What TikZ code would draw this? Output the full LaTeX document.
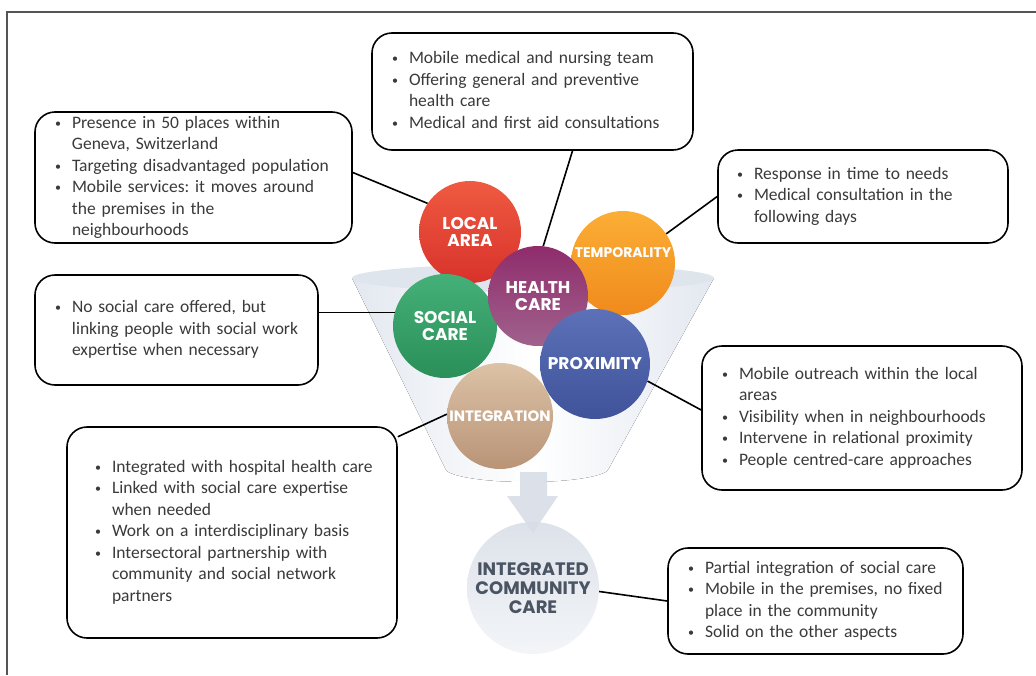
\documentclass[tikz,border=0pt]{standalone}
\usepackage{fontspec}
\setmainfont{Carlito}
\newfontfamily\ballfont{Poppins}
\frenchspacing

\definecolor{framecol}{HTML}{555555}
\definecolor{boxtext}{HTML}{3A3A3A}
\definecolor{funnel}{HTML}{E3E8F0}
\definecolor{funnelrim}{HTML}{DFE5ED}
\definecolor{arrowcol}{HTML}{D8DEE7}
\definecolor{redtop}{HTML}{EF5A41}
\definecolor{redbot}{HTML}{D8322B}
\definecolor{orangetop}{HTML}{FBAE35}
\definecolor{orangebot}{HTML}{F08A1C}
\definecolor{purpletop}{HTML}{8F2C6C}
\definecolor{purplebot}{HTML}{A0628C}
\definecolor{greentop}{HTML}{44B078}
\definecolor{greenbot}{HTML}{2A8F58}
\definecolor{bluetop}{HTML}{5C71B8}
\definecolor{bluebot}{HTML}{3F529A}
\definecolor{tantop}{HTML}{DCC2A6}
\definecolor{tanbot}{HTML}{B99477}
\definecolor{icctop}{HTML}{DDE2EA}
\definecolor{iccbot}{HTML}{F3F5F8}
\definecolor{icctext}{HTML}{4A5462}

\newcommand{\bul}{\makebox[17pt][l]{\raisebox{0.1ex}{\fontsize{12}{12}\selectfont\textbullet}}}
\newcommand{\cont}{\hspace*{17pt}}
\newcommand{\points}[1]{\noindent\begin{tabular}{@{}l@{}}#1\end{tabular}}

\tikzset{
	infobox/.style={draw=black, line width=1.6pt, rounded corners=20pt, fill=white,
		font=\fontsize{17.5}{21.5}\selectfont, text=boxtext, inner xsep=20pt, inner ysep=0pt},
	ball/.style={circle, inner sep=0pt, text=white, align=center,
		font=\ballfont\bfseries\fontsize{17}{17.5}\selectfont},
	link/.style={line width=1.6pt, black},
}

\begin{document}
\begin{tikzpicture}[x=1pt, y=-1pt]
	\useasboundingbox (0,0) rectangle (1036,675);
	\draw[framecol, line width=1.4pt] (1036,12) -- (7,12) -- (7,675);	% Frame

	% Funnel
	\coordinate (FL) at (352,278);
	\coordinate (FR) at (714,278);
	\coordinate (BL) at (445,468);
	\fill[left color=funnel, right color=funnel, middle color=white]
		(FL) -- (BL) arc[start angle=180, end angle=0, x radius=82, y radius=14] -- (FR) -- cycle;	% Cone
	\fill[funnelrim] (533,278) ellipse[x radius=181, y radius=14];	% Rim

	% Result
	\node[ball, minimum size=132pt, top color=icctop, bottom color=iccbot, text=icctext,
		font=\ballfont\bfseries\fontsize{18}{19}\selectfont] (icc) at (533,588) {INTEGRATED\\COMMUNITY\\CARE};
	\fill[arrowcol, opacity=0.9] (520,472) -- (547,472) -- (547,496) -- (558,496)
		-- (533,533) -- (507,496) -- (520,496) -- cycle;	% Arrow into result

	% Balls
	\node[ball, minimum size=102pt, top color=redtop, bottom color=redbot] (local) at (470,232) {LOCAL\\AREA};
	\node[ball, minimum size=104pt, top color=orangetop, bottom color=orangebot] (temp) at (623,263) {};
	\node[ball, font=\ballfont\bfseries\fontsize{14}{14}\selectfont] at ([yshift=10pt]temp.center) {TEMPORALITY};
	\node[ball, minimum size=104pt, top color=greentop, bottom color=greenbot] (social) at (445,326) {SOCIAL\\CARE};
	\node[ball, minimum size=100pt, top color=purpletop, bottom color=purplebot] (health) at (538,296) {HEALTH\\CARE};
	\node[ball, minimum size=106pt, top color=tantop, bottom color=tanbot,
		font=\ballfont\bfseries\fontsize{15}{15}\selectfont] (integ) at (500,416) {INTEGRATION};
	\node[ball, minimum size=110pt, top color=bluetop, bottom color=bluebot] (prox) at (595,364) {PROXIMITY};

	% Boxes
	\node[infobox, text width=281pt, minimum height=117pt] (hcbox) at (532.5,91.5) {\points{%
		\bul Mobile medical and nursing team\\
		\bul Offering general and preventive\\
		\cont health care\\
		\bul Medical and first aid consultations}};
	\node[infobox, text width=277pt, minimum height=131pt] (labox) at (193.5,177.5) {\points{%
		\bul Presence in 50 places within\\
		\cont Geneva, Switzerland\\
		\bul Targeting disadvantaged population\\
		\bul Mobile services: it moves around\\
		\cont the premises in the\\
		\cont neighbourhoods}};
	\node[infobox, text width=252pt, inner xsep=19pt, minimum height=93pt] (tpbox) at (863,196.5) {\points{%
		\bul Response in time to needs\\
		\bul Medical consultation in the\\
		\cont following days}};
	\node[infobox, text width=243pt, minimum height=110pt] (scbox) at (176.5,330) {\points{%
		\bul No social care offered, but\\
		\cont linking people with social work\\
		\cont expertise when necessary}};
	\node[infobox, text width=280pt, minimum height=144pt] (pxbox) at (862,418) {\points{%
		\bul Mobile outreach within the local\\
		\cont areas\\
		\bul Visibility when in neighbourhoods\\
		\bul Intervene in relational proximity\\
		\bul People centred-care approaches}};
	\node[infobox, text width=274pt, inner xsep=28pt, minimum height=211pt] (inbox) at (232,532.5) {\points{%
		\bul Integrated with hospital health care\\
		\bul Linked with social care expertise\\
		\cont when needed\\
		\bul Work on a interdisciplinary basis\\
		\bul Intersectoral partnership with\\
		\cont community and social network\\
		\cont partners}};
	\node[infobox, text width=255pt, minimum height=106pt] (iccbox) at (815.5,601) {\points{%
		\bul Partial integration of social care\\
		\bul Mobile in the premises, no fixed\\
		\cont place in the community\\
		\bul Solid on the other aspects}};

	% Links
	\draw[link] ([yshift=5pt]labox.east) -- (local.146);
	\draw[link] ([xshift=40pt]hcbox.south) -- (health.84);
	\draw[link] (tpbox.west) -- (temp.34);
	\draw[link] (social.165) -- (social.165 -| scbox.east);
	\draw[link] (prox.-18) -- ([yshift=8pt]pxbox.west);
	\draw[link] (inbox.30) -- (integ.178);
	\draw[link] (icc.-3) -- (iccbox.west);
\end{tikzpicture}
\end{document}
